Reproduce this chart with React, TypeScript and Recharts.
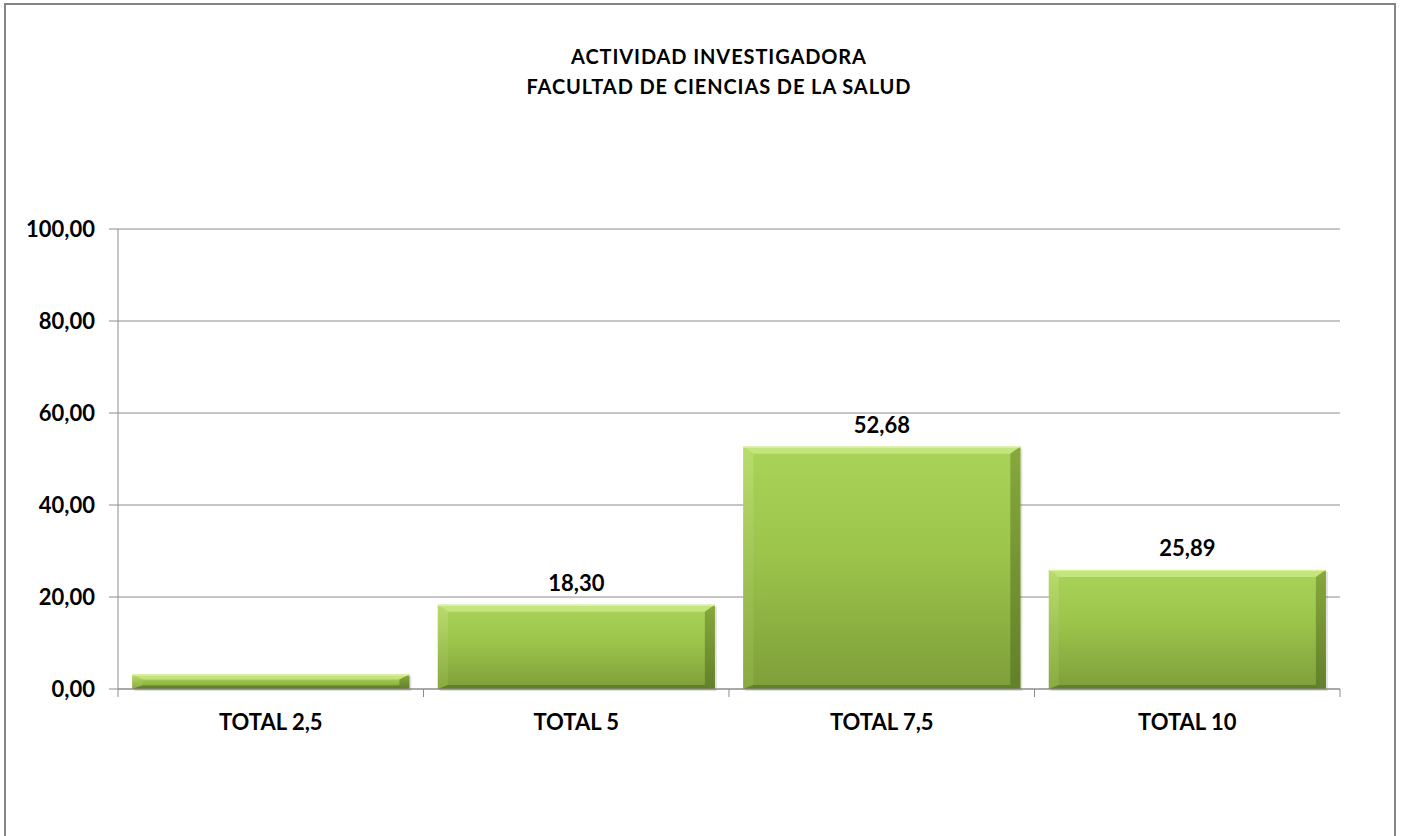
import React from 'react';
import { BarChart, Bar, XAxis, YAxis, CartesianGrid, LabelList } from 'recharts';

const categories = ['TOTAL 2,5', 'TOTAL 5', 'TOTAL 7,5', 'TOTAL 10'];
const values = [3.13, 18.3, 52.68, 25.89];
const showValueLabel = [false, true, true, true];
const yTicks = [0, 20, 40, 60, 80, 100];
const titleLines = ['ACTIVIDAD INVESTIGADORA', 'FACULTAD DE CIENCIAS DE LA SALUD'];

const data = categories.map((c, i) => ({ name: c, value: values[i], show: showValueLabel[i] }));

const W = 1403;
const H = 836;
const PLOT_LEFT = 118;
const PLOT_RIGHT = 1340;
const BAND = (PLOT_RIGHT - PLOT_LEFT) / categories.length;
const FONT = 'Lato, "Open Sans", sans-serif';
const AXIS_COLOR = '#8c8c8c';

const fmt = (v: any) => Number(v).toFixed(2).replace('.', ',');

const BevelBar = (props: any) => {
  const { x, y, width, height } = props;
  if (height == null || height <= 0) return null;
  const bs = Math.min(10, width / 4);
  const bt = Math.min(7, height / 3);
  const bb = Math.min(4, height / 4);
  const x2 = x + width;
  const y2 = y + height;
  return (
    <g>
      <rect x={x + 2} y={y + 2} width={width} height={height} fill="#000" opacity={0.12} />
      <rect x={x} y={y} width={width} height={height} fill="url(#faceGrad)" />
      <polygon
        points={`${x},${y} ${x2},${y} ${x2 - bs},${y + bt} ${x + bs},${y + bt}`}
        fill="#c9e884"
        opacity={0.85}
      />
      <polygon
        points={`${x},${y} ${x + bs},${y + bt} ${x + bs},${y2 - bb} ${x},${y2}`}
        fill="url(#leftGrad)"
      />
      <polygon
        points={`${x2},${y} ${x2},${y2} ${x2 - bs},${y2 - bb} ${x2 - bs},${y + bt}`}
        fill="url(#rightGrad)"
      />
      <polygon
        points={`${x},${y2} ${x + bs},${y2 - bb} ${x2 - bs},${y2 - bb} ${x2},${y2}`}
        fill="#5d7a27"
        opacity={0.85}
      />
      <line x1={x} y1={y + 0.5} x2={x2} y2={y + 0.5} stroke="#dff5a0" strokeWidth={1} />
    </g>
  );
};

const CatTick = (props: any) => {
  const { x, y, payload } = props;
  const isLast = payload.value === categories[categories.length - 1];
  return (
    <g>
      <line x1={x - BAND / 2} x2={x - BAND / 2} y1={y - 8} y2={y} stroke={AXIS_COLOR} strokeWidth={1} />
      {isLast && (
        <line x1={x + BAND / 2} x2={x + BAND / 2} y1={y - 8} y2={y} stroke={AXIS_COLOR} strokeWidth={1} />
      )}
      <text
        x={x}
        y={y + 33}
        textAnchor="middle"
        fill="#000"
        fontFamily={FONT}
        fontWeight={700}
        fontSize={22}
      >
        {payload.value}
      </text>
    </g>
  );
};

const ValueLabel = (props: any) => {
  const { x, y, width, value, index } = props;
  if (!showValueLabel[index]) return null;
  return (
    <text
      x={x + width / 2}
      y={y - 14}
      textAnchor="middle"
      fill="#000"
      fontFamily={FONT}
      fontWeight={700}
      fontSize={22}
    >
      {fmt(value)}
    </text>
  );
};

export default function App() {
  return (
    <div
      style={{
        position: 'absolute',
        left: 0,
        top: 0,
        width: W,
        height: H,
        background: '#fff',
        overflow: 'hidden',
      }}
    >
      <div
        style={{
          position: 'absolute',
          left: 4,
          top: 3,
          width: 1388,
          height: 900,
          border: '2px solid #858585',
        }}
      />
      <div
        style={{
          position: 'absolute',
          left: 0,
          top: 41,
          width: 1438,
          textAlign: 'center',
          fontFamily: FONT,
          fontWeight: 700,
          fontSize: 20,
          letterSpacing: 0.9,
          lineHeight: '30px',
          color: '#000',
        }}
      >
        {titleLines.map((t) => (
          <div key={t}>{t}</div>
        ))}
      </div>
      <div style={{ position: 'absolute', left: 0, top: 0 }}>
        <BarChart
          width={W}
          height={H}
          data={data}
          margin={{ top: 229, right: W - PLOT_RIGHT, bottom: 107, left: 0 }}
          barCategoryGap="4.7%"
        >
          <defs>
            <linearGradient id="faceGrad" x1="0" y1="0" x2="0" y2="1">
              <stop offset="0%" stopColor="#a9d458" />
              <stop offset="45%" stopColor="#9cc44b" />
              <stop offset="100%" stopColor="#7e9e3a" />
            </linearGradient>
            <linearGradient id="leftGrad" x1="0" y1="0" x2="0" y2="1">
              <stop offset="0%" stopColor="#b9dd6c" />
              <stop offset="100%" stopColor="#88aa40" />
            </linearGradient>
            <linearGradient id="rightGrad" x1="0" y1="0" x2="0" y2="1">
              <stop offset="0%" stopColor="#86a83c" />
              <stop offset="100%" stopColor="#62802a" />
            </linearGradient>
          </defs>
          <CartesianGrid vertical={false} stroke={AXIS_COLOR} strokeWidth={1} />
          <XAxis
            dataKey="name"
            height={40}
            tickLine={false}
            tickSize={8}
            tickMargin={0}
            axisLine={{ stroke: AXIS_COLOR }}
            tick={<CatTick />}
            interval={0}
          />
          <YAxis
            width={PLOT_LEFT}
            domain={[0, 100]}
            ticks={yTicks}
            tickFormatter={fmt}
            tickSize={9}
            tickMargin={14}
            axisLine={{ stroke: AXIS_COLOR }}
            tickLine={{ stroke: AXIS_COLOR }}
            tick={{ fill: '#000', fontFamily: FONT, fontWeight: 700, fontSize: 22 }}
          />
          <Bar dataKey="value" isAnimationActive={false} shape={<BevelBar />}>
            <LabelList dataKey="value" content={<ValueLabel />} />
          </Bar>
        </BarChart>
      </div>
    </div>
  );
}
